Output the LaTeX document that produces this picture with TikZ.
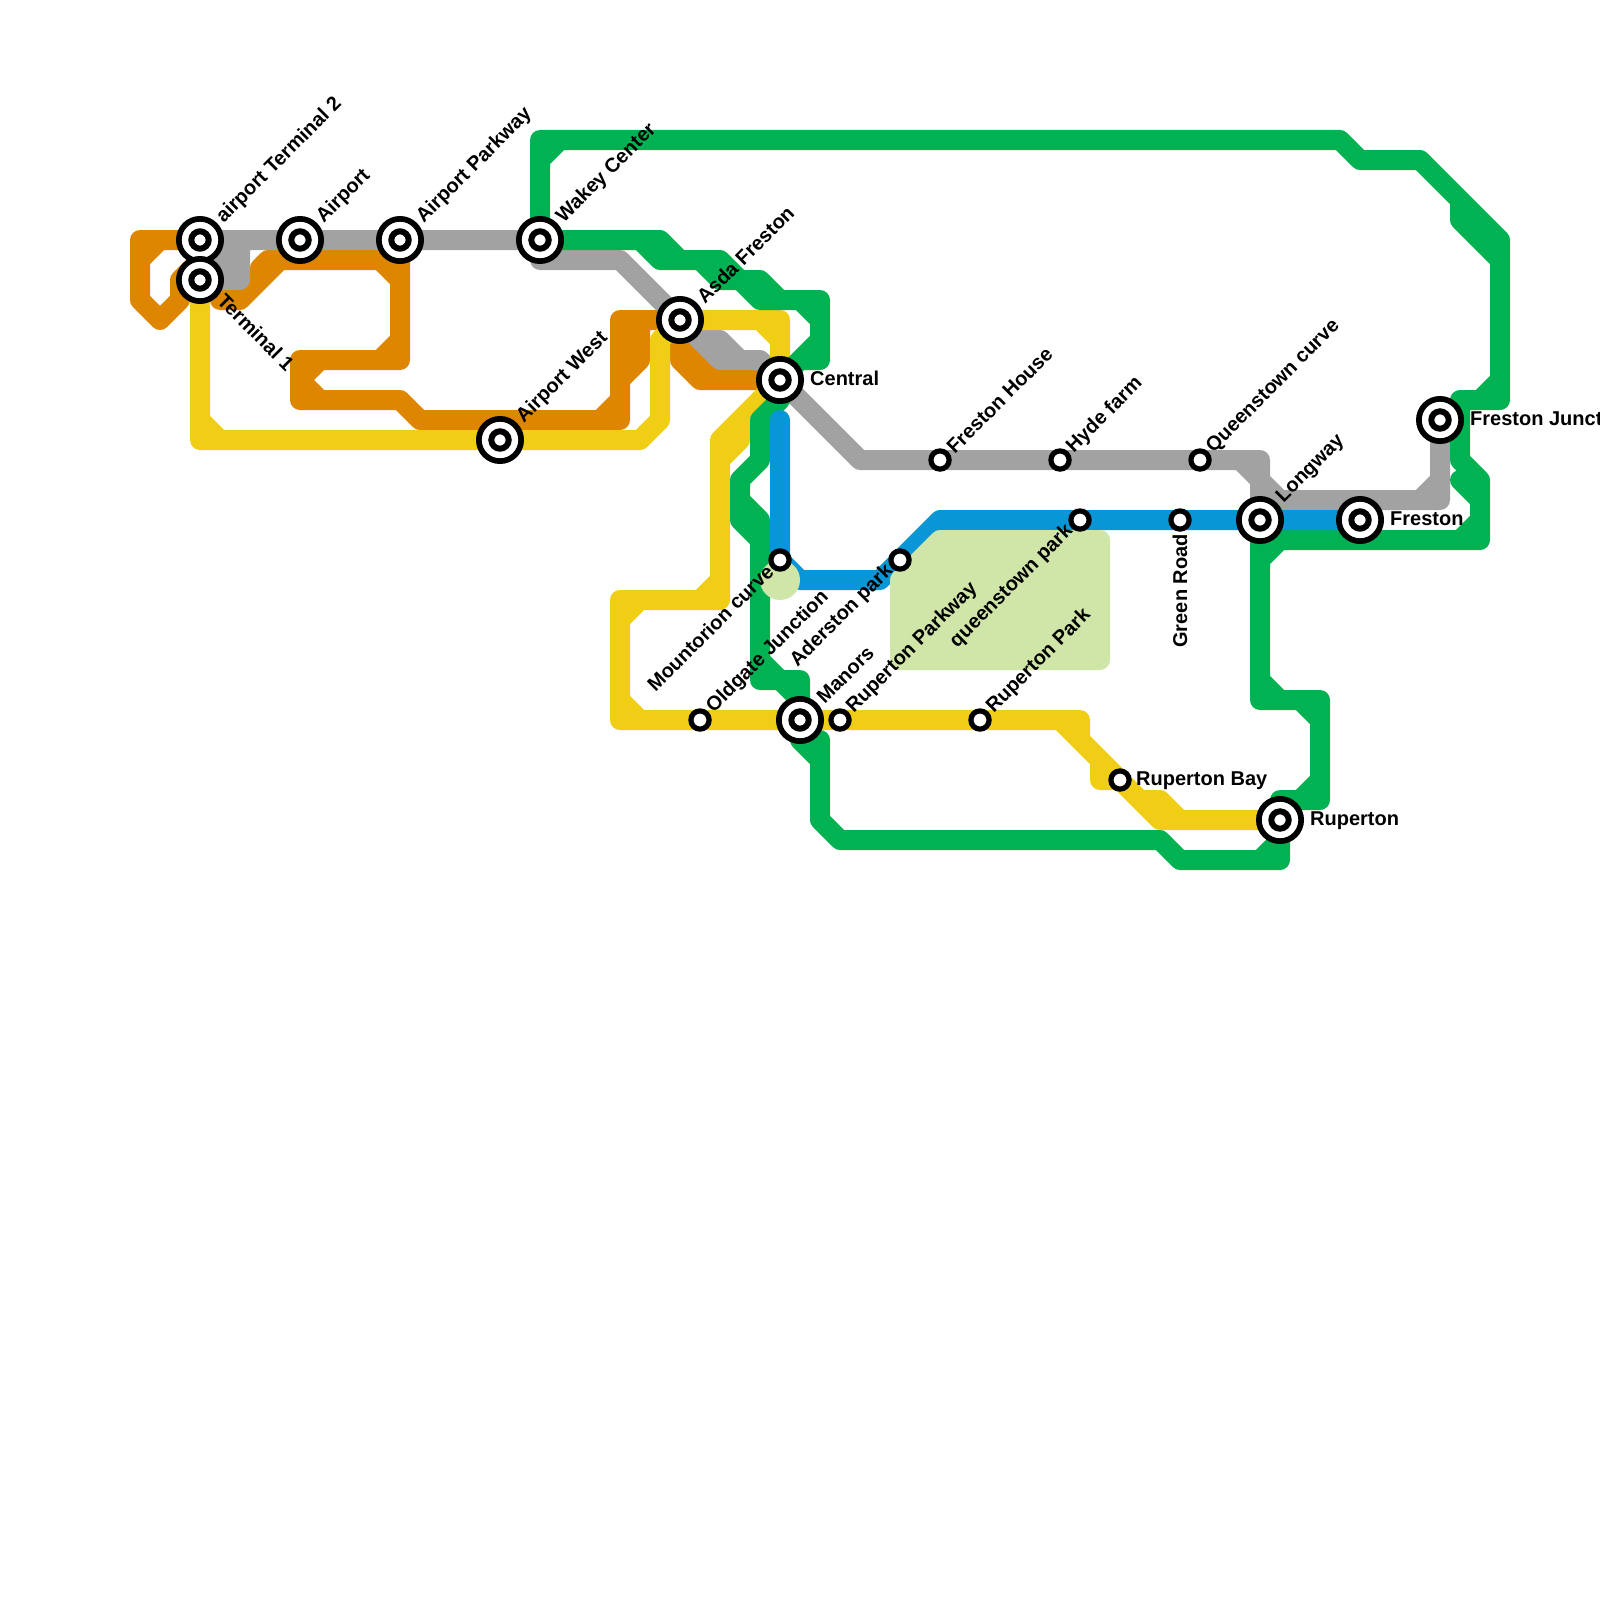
\documentclass[tikz,border=0pt]{standalone}
\usepackage{xcolor}
\usepackage{fontspec}
\setmainfont{Liberation Sans}
\definecolor{lineorange}{HTML}{DF8600}
\definecolor{linegray}{HTML}{A2A2A2}
\definecolor{lineyellow}{HTML}{F0CE15}
\definecolor{linegreen}{HTML}{00B251}
\definecolor{lineblue}{HTML}{0896D7}
\definecolor{parkgreen}{HTML}{D0E5A8}

\begin{document}
\begin{tikzpicture}[
  x=1pt,y=-1pt,
  route/.style={draw,line width=20pt,line join=round,line cap=round},
  bigstop/.style={circle,draw=black,fill=white,line width=5.7pt,inner sep=0pt,outer sep=0pt,minimum size=42.3pt},
  corestop/.style={circle,draw=black,fill=white,line width=6pt,inner sep=0pt,outer sep=0pt,minimum size=17.4pt},
  smallstop/.style={circle,draw=black,fill=white,line width=5.2pt,inner sep=0pt,outer sep=0pt,minimum size=18.2pt},
  stopname/.style={font=\fontsize{20}{24}\bfseries,inner sep=0pt}
]
\useasboundingbox (0,0) rectangle (1600,1600);
\foreach \nm/\px/\py in {termtwo/200/240,termone/200/280,airport/300/240,airportpkwy/400/240,wakey/540/240,asda/680/320,central/780/380,airportw/500/440,manors/800/720,longway/1260/520,frestonst/1360/520,frestonj/1440/420,ruperton/1280/820,frestonh/940/460,hyde/1060/460,qcurve/1200/460,qpark/1080/520,greenrd/1180/520,mountorion/780/560,aderston/900/560,oldgate/700/720,ruppkwy/840/720,ruppark/980/720,rupbay/1120/780}
  \coordinate (\nm) at (\px,\py);

\path[route,lineorange]
  (termtwo) -- (140,240) -- (140,300) -- (160,320) -- (180,300) -- (180,280) -- (200,260)
  (140,260) -- (160,240)
  (220,300) -- (240,300) -- (280,260) -- (400,260) -- (400,360) -- (300,360) -- (300,400) -- (400,400) -- (420,420) -- (620,420) -- (620,320) -- (asda) -- (680,360) -- (700,380) -- (central)
  (260,280) -- (260,268) -- (268,260) -- (280,260)
  (380,260) -- (400,280)
  (400,340) -- (380,360)
  (320,360) -- (300,380) -- (320,400)
  (600,420) -- (620,400)
  (620,380) -- (640,360) -- (640,320)
  (680,340) -- (720,380)
  (asda) -- (720,360) -- (720,380);
\path[route,linegray]
  (termtwo) -- (wakey) -- (540,260) -- (620,260) -- (asda) -- (720,360) -- (760,360) -- (central) -- (860,460) -- (1260,460) -- (longway) -- (1280,500) -- (1440,500) -- (frestonj)
  (240,240) -- (240,280) -- (termone) -- (240,240)
  (220,240) -- (220,280)
  (700,340) -- (720,340) -- (740,360)
  (1240,460) -- (1280,500)
  (1420,500) -- (1440,480);
\path[route,lineyellow]
  (termone) -- (200,440) -- (640,440) -- (660,420) -- (660,340) -- (asda) -- (780,320) -- (central) -- (720,440) -- (720,600) -- (620,600) -- (620,720) -- (1080,720) -- (1080,740)
  (200,420) -- (220,440)
  (760,320) -- (780,340)
  (720,460) -- (740,440) -- (740,420)
  (720,580) -- (700,600)
  (640,600) -- (620,620)
  (620,700) -- (640,720)
  (1060,720) -- (1160,820) -- (ruperton)
  (1100,760) -- (1100,780) -- (1120,780) -- (1140,800) -- (1160,800) -- (1180,820);
\path[route,linegreen]
  (wakey) -- (540,140) -- (1340,140) -- (1360,160) -- (1420,160) -- (1500,240) -- (1500,400) -- (1460,400) -- (1460,460) -- (1480,480) -- (1480,540) -- (1280,540) -- (1260,560) -- (longway) -- (1260,700) -- (1320,700) -- (1320,800) -- (1280,800) -- (ruperton) -- (1280,860) -- (1180,860) -- (1160,840) -- (840,840) -- (820,820) -- (820,740) -- (800,740) -- (manors) -- (800,680) -- (760,680) -- (760,540) -- (740,520) -- (740,480) -- (760,460) -- (760,420) -- (780,400) -- (central) -- (800,360) -- (820,360) -- (820,300) -- (780,300) -- (760,280) -- (740,280) -- (720,260) -- (680,260) -- (660,240) -- (wakey)
  (540,160) -- (560,140)
  (640,240) -- (660,260) -- (680,260)
  (700,260) -- (720,280) -- (740,280) -- (760,300) -- (780,300)
  (800,300) -- (820,320)
  (820,340) -- (800,360)
  (1460,200) -- (1460,220) -- (1500,260)
  (1460,480) -- (1480,500)
  (1500,380) -- (1480,400)
  (1480,520) -- (1460,540)
  (1260,680) -- (1280,700)
  (1300,700) -- (1320,720)
  (1320,780) -- (1300,800)
  (1280,840) -- (1260,860)
  (740,500) -- (760,520) -- (760,540)
  (760,660) -- (800,700)
  (800,740) -- (820,760);
\path[route,lineblue]
  (780,420) -- (780,560) -- (800,580) -- (880,580) -- (940,520) -- (frestonst);
\path[route,parkgreen,fill=parkgreen]
  (900,580) -- (940,540) -- (1100,540) -- (1100,660) -- (900,660) -- cycle;
\fill[parkgreen] (780,580) circle (20);

\foreach \nm in {termtwo,termone,airport,airportpkwy,wakey,asda,central,airportw,manors,longway,frestonst,frestonj,ruperton}{
  \node[bigstop] (\nm-ring) at (\nm) {};
  \node[corestop] (\nm-stop) at (\nm) {};
}
\foreach \nm in {frestonh,hyde,qcurve,qpark,greenrd,mountorion,aderston,oldgate,ruppkwy,ruppark,rupbay}
  \node[smallstop] (\nm-stop) at (\nm) {};

\foreach \nm/\txt in {termtwo/airport Terminal 2,airport/Airport,airportpkwy/Airport Parkway,wakey/Wakey Center,asda/Asda Freston,airportw/Airport West,manors/Manors,longway/Longway}
  \node[stopname,anchor=west,rotate=45] (\nm-name) at ([shift={(20,-20)}]\nm) {\txt};
\foreach \nm/\txt in {frestonh/Freston House,hyde/Hyde farm,qcurve/Queenstown curve,oldgate/Oldgate Junction,ruppkwy/Ruperton Parkway,ruppark/Ruperton Park}
  \node[stopname,anchor=west,rotate=45] (\nm-name) at ([shift={(10,-10)}]\nm) {\txt};
\foreach \nm/\txt in {qpark/queenstown park,mountorion/Mountorion curve,aderston/Aderston park}
  \node[stopname,anchor=east,rotate=45] (\nm-name) at ([shift={(-10,8)}]\nm) {\txt};
\node[stopname,anchor=west,rotate=-45] (termone-name) at ([shift={(21,17)}]termone) {Terminal 1};
\node[stopname,anchor=east,rotate=90] (greenrd-name) at ([shift={(0,14)}]greenrd) {Green Road};
\node[stopname,anchor=west] (central-name) at ([shift={(30,-2)}]central) {Central};
\node[stopname,anchor=west] (frestonst-name) at ([shift={(30,-1)}]frestonst) {Freston};
\node[stopname,anchor=west] (frestonj-name) at ([shift={(30,-1)}]frestonj) {Freston Junct};
\node[stopname,anchor=west] (ruperton-name) at ([shift={(30,1)}]ruperton) {Ruperton};
\node[stopname,anchor=west] (rupbay-name) at ([shift={(16,1)}]rupbay) {Ruperton Bay};
\end{tikzpicture}
\end{document}
